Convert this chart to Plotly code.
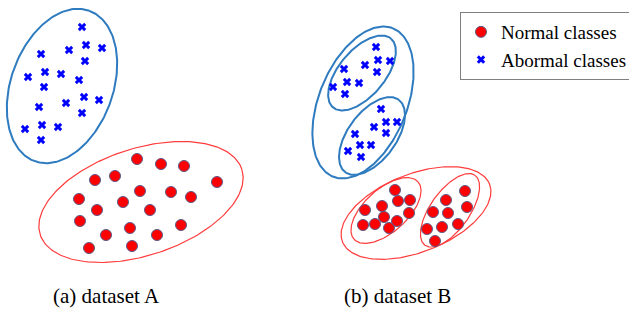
import numpy as np
import plotly.graph_objects as go

# ---- data (in picture coordinates) ----
a_abnormal_x = [82, 86, 102, 69, 41, 85, 45, 61, 28, 79, 44, 84, 99, 66, 39, 82, 42, 58, 25, 41]
a_abnormal_y = [27, 45, 48, 50, 54, 61, 72, 74, 77, 80, 87, 97, 100, 103, 107, 113, 125, 127, 129, 140]

a_normal_x = [137, 161, 184, 95, 115, 217, 140, 171, 191, 79, 123, 97, 150, 80, 130, 181, 106, 157, 89, 132]
a_normal_y = [159, 164, 166, 180, 176, 182, 191, 192, 197, 199, 202, 210, 210, 221, 228, 225, 235, 235, 248, 246]

b_abnormal_x = [376, 378, 390, 365, 344, 377, 347, 359, 333, 345,
                381, 386, 397, 374, 386, 355, 360, 371, 348, 361]
b_abnormal_y = [47, 60, 61, 65, 69, 72, 82, 83, 87, 94,
                109, 122, 122, 127, 133, 134, 145, 145, 151, 157]

b_normal_x = [395, 382, 398, 410, 365, 384, 409, 363, 375, 389, 397,
              465, 446, 467, 433, 448, 427, 442, 458, 435]
b_normal_y = [190, 206, 201, 200, 210, 217, 213, 225, 224, 228, 221,
              191, 200, 207, 212, 213, 229, 227, 224, 241]

legend_names = ["Normal classes", "Abormal classes"]
panel_labels = ["(a) dataset A", "(b) dataset B"]

# cluster outlines: (center x, center y, semi-major, semi-minor, angle deg, colour, width)
outlines = [
    (62, 86, 80, 51, 70, "#2e7bbf", 2.0),
    (141, 202, 106, 53.5, 18, "#ff3b3b", 1.2),
    (363, 102.5, 80, 44, 68, "#2e7bbf", 2.0),
    (362, 73, 45, 23, 50, "#2e7bbf", 2.0),
    (372, 136, 45, 24, 53.5, "#2e7bbf", 2.0),
    (416, 213, 79, 39, 21.4, "#ff3b3b", 1.2),
    (386, 210.5, 43, 21.5, 42, "#ff3b3b", 1.2),
    (450, 210.3, 43, 19.5, 54.5, "#ff3b3b", 1.2),
]

W, H = 629, 310
SERIF = "Liberation Serif, Times New Roman, serif"

fig = go.Figure()

t = np.linspace(0, 2 * np.pi, 241)
for cx, cy, a, b, ang, col, lw in outlines:
    th = np.deg2rad(ang)
    ux, uy = np.cos(th), -np.sin(th)
    vx, vy = np.sin(th), np.cos(th)
    xs = cx + a * np.cos(t) * ux + b * np.sin(t) * vx
    ys = cy + a * np.cos(t) * uy + b * np.sin(t) * vy
    fig.add_trace(go.Scatter(x=xs, y=ys, mode="lines", line=dict(color=col, width=lw),
                             showlegend=False, hoverinfo="skip"))

normal_marker = dict(symbol="circle", size=11, color="#ff0000",
                     line=dict(color="#5a5a8a", width=1))
abn_marker = dict(symbol="x", size=7.5, color="#0000ff", line=dict(width=0))

fig.add_trace(go.Scatter(x=a_normal_x + b_normal_x, y=a_normal_y + b_normal_y,
                         mode="markers", marker=normal_marker, name=legend_names[0]))
fig.add_trace(go.Scatter(x=a_abnormal_x + b_abnormal_x, y=a_abnormal_y + b_abnormal_y,
                         mode="markers", marker=abn_marker, name=legend_names[1]))

fig.add_annotation(x=106, y=296, text=panel_labels[0], showarrow=False,
                   font=dict(family=SERIF, size=21, color="black"))
fig.add_annotation(x=397, y=296, text=panel_labels[1], showarrow=False,
                   font=dict(family=SERIF, size=21, color="black"))

fig.update_layout(
    width=W, height=H,
    margin=dict(l=0, r=0, t=0, b=0, autoexpand=False),
    paper_bgcolor="white", plot_bgcolor="white",
    xaxis=dict(range=[0, W], visible=False, fixedrange=True),
    yaxis=dict(range=[H, 0], visible=False, fixedrange=True),
    legend=dict(x=460 / W, y=1 - 12 / H, xanchor="left", yanchor="top",
                bordercolor="#7f7f7f", borderwidth=1, bgcolor="white",
                font=dict(family=SERIF, size=19, color="black"),
                tracegroupgap=0),
    showlegend=True,
)

fig.write_html("out.html", config={"displayModeBar": False},
               post_script="document.body.style.margin='0px';document.body.style.overflow='hidden';")
